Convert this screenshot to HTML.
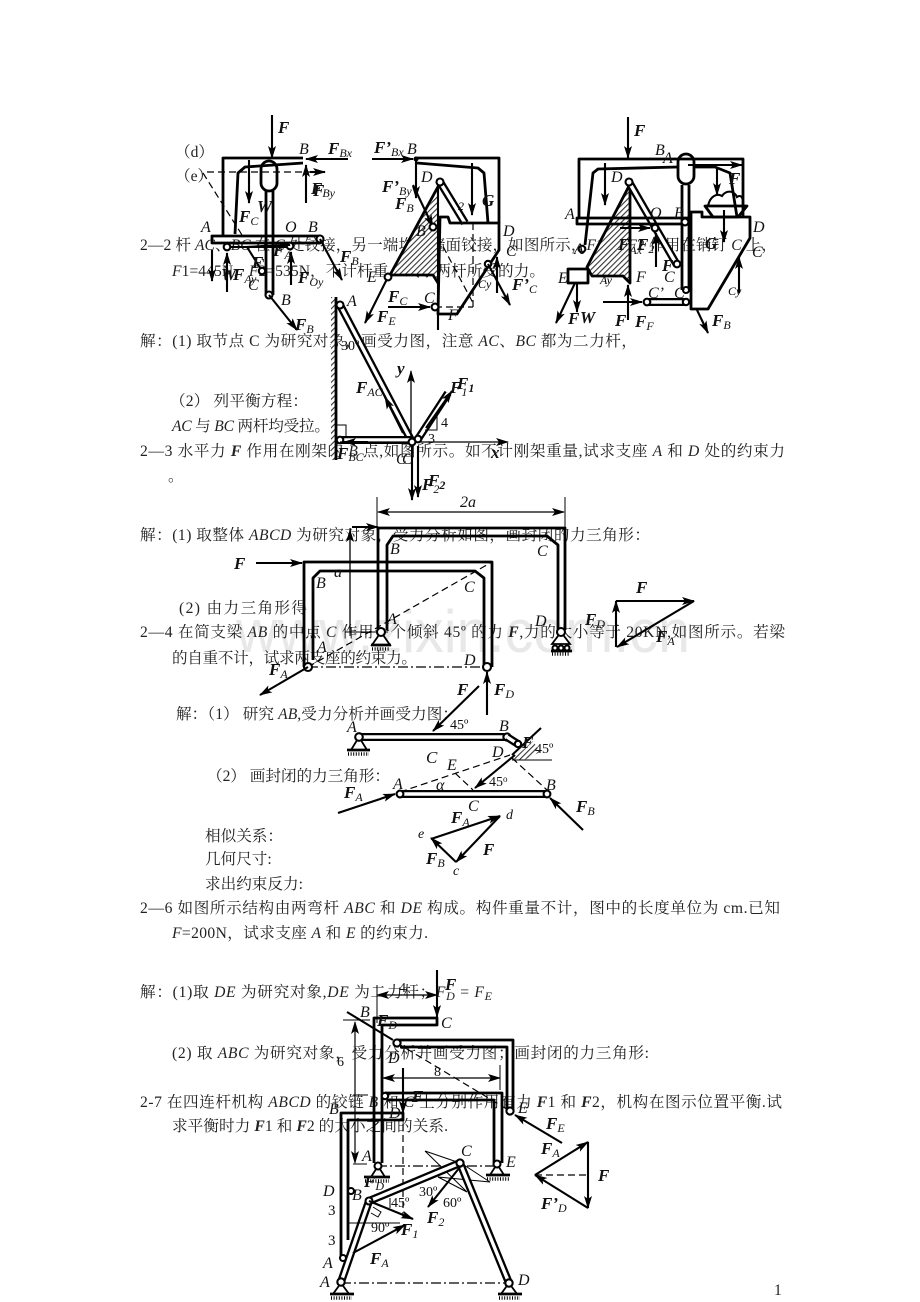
<!DOCTYPE html>
<html><head><meta charset="utf-8">
<style>
html,body{margin:0;padding:0;background:#fff}
svg{display:block}
.t{font:15.6px "Liberation Serif","Noto Serif CJK SC",serif;fill:#222}
.i{font-style:italic}
.l{font:italic 16px "Liberation Serif",serif;fill:#111}
.f{font:italic bold 17px "Liberation Serif",serif;fill:#111}
.s{font:italic 12px "Liberation Serif",serif}
.n{font:14px "Liberation Serif",serif;fill:#111}
.th{fill:none;stroke:#000;stroke-width:2.8;stroke-linejoin:round}
.m{fill:none;stroke:#000;stroke-width:2.1}
.a{fill:none;stroke:#000;stroke-width:2.1;marker-end:url(#h)}
.a2{fill:none;stroke:#000;stroke-width:1.3;marker-end:url(#h)}
.dim{fill:none;stroke:#000;stroke-width:1.2;marker-end:url(#h);marker-start:url(#hs)}
.th1{fill:none;stroke:#000;stroke-width:1}
.d{fill:none;stroke:#000;stroke-width:1.2;stroke-dasharray:7 4}
.dd{fill:none;stroke:#000;stroke-width:1.2;stroke-dasharray:10 3 2 3}
.b1{fill:none;stroke:#000;stroke-width:8}
.b2{fill:none;stroke:#fff;stroke-width:3.4}
.c{fill:#fff;stroke:#000;stroke-width:2.1}
.w{fill:#fff;stroke:#000;stroke-width:1.8}
.hl{fill:none;stroke:#000;stroke-width:3.5;stroke-dasharray:1 1.6}
</style></head>
<body>
<svg xmlns="http://www.w3.org/2000/svg" width="920" height="1302" viewBox="0 0 920 1302">
<defs>
<marker id="h" markerUnits="userSpaceOnUse" markerWidth="13" markerHeight="8" refX="12" refY="4" orient="auto"><path d="M0 0L13 4L0 8L3 4z" fill="#000"/></marker>
<marker id="hs" markerUnits="userSpaceOnUse" markerWidth="13" markerHeight="8" refX="1" refY="4" orient="auto"><path d="M13 0L0 4L13 8L10 4z" fill="#000"/></marker>
<pattern id="hp" width="4" height="4" patternUnits="userSpaceOnUse" patternTransform="rotate(45)"><rect width="4" height="4" fill="#fff"/><rect width="1.1" height="4" fill="#333"/></pattern>
</defs>
<rect width="920" height="1302" fill="#fff"/>

<text x="236" y="652" textLength="454" lengthAdjust="spacingAndGlyphs" font-family="Liberation Sans" font-size="60" fill="#e8e8e8">www.zixin.com.cn</text>

<!-- body text -->
<g transform="translate(0,1)">
<text class="t" x="175" y="156">（d）</text>
<text class="t" x="175" y="180">（e）</text>
<text class="t" x="140" y="249" textLength="637">2—2 杆 <tspan class="i">AC</tspan>、<tspan class="i">BC</tspan> 在 <tspan class="i">C</tspan> 处铰接，另一端均与墙面铰接，如图所示，<tspan class="i">F</tspan>1 和 <tspan class="i">F</tspan>2 作用在销钉 <tspan class="i">C</tspan> 上，</text>
<text class="t" x="172" y="275" textLength="373"><tspan class="i">F</tspan>1=445N，<tspan class="i">F</tspan>2=535N，不计杆重，试求两杆所受的力。</text>
<text class="t" x="140" y="345" textLength="497">解：(1) 取节点 C 为研究对象，画受力图，注意 <tspan class="i">AC</tspan>、<tspan class="i">BC</tspan> 都为二力杆，</text>
<text class="t" x="170" y="405" textLength="138">（2） 列平衡方程：</text>
<text class="t" x="172" y="430" textLength="158"><tspan class="i">AC</tspan> 与 <tspan class="i">BC</tspan> 两杆均受拉。</text>
<text class="t" x="140" y="455" textLength="645">2—3 水平力 <tspan class="i" font-weight="bold">F</tspan> 作用在刚架的 <tspan class="i">B</tspan> 点,如图所示。如不计刚架重量,试求支座 <tspan class="i">A</tspan> 和 <tspan class="i">D</tspan> 处的约束力</text>
<text class="t" x="168" y="480">。</text>
<text class="t" x="140" y="539" textLength="510">解：(1) 取整体 <tspan class="i">ABCD</tspan> 为研究对象，受力分析如图，画封闭的力三角形：</text>
<text class="t" x="179" y="612" textLength="128">(2) 由力三角形得</text>
<text class="t" x="140" y="636" textLength="645">2—4 在简支梁 <tspan class="i">AB</tspan> 的中点 <tspan class="i">C</tspan> 作用一个倾斜 45º 的力 <tspan class="i" font-weight="bold">F</tspan>,力的大小等于 20KN,如图所示。若梁</text>
<text class="t" x="172" y="662" textLength="245">的自重不计，试求两支座的约束力。</text>
<text class="t" x="176" y="718" textLength="282">解：（1） 研究 <tspan class="i">AB</tspan>,受力分析并画受力图：</text>
<text class="t" x="207" y="780" textLength="183">（2） 画封闭的力三角形：</text>
<text class="t" x="205" y="840">相似关系：</text>
<text class="t" x="205" y="863">几何尺寸:</text>
<text class="t" x="205" y="888">求出约束反力:</text>
<text class="t" x="140" y="912" textLength="640">2—6 如图所示结构由两弯杆 <tspan class="i">ABC</tspan> 和 <tspan class="i">DE</tspan> 构成。构件重量不计，图中的长度单位为 cm.已知</text>
<text class="t" x="172" y="937" textLength="256"><tspan class="i">F</tspan>=200N，试求支座 <tspan class="i">A</tspan> 和 <tspan class="i">E</tspan> 的约束力.</text>
<text class="t" x="140" y="996" textLength="352">解：(1)取 <tspan class="i">DE</tspan> 为研究对象,<tspan class="i">DE</tspan> 为二力杆；<tspan class="i">F</tspan><tspan class="s" dy="3">D</tspan><tspan dy="-3"> = </tspan><tspan class="i">F</tspan><tspan class="s" dy="3">E</tspan></text>
<text class="t" x="172" y="1057" textLength="477">(2) 取 <tspan class="i">ABC</tspan> 为研究对象，受力分析并画受力图；画封闭的力三角形:</text>
<text class="t" x="140" y="1106" textLength="642">2-7 在四连杆机构 <tspan class="i">ABCD</tspan> 的铰链 <tspan class="i">B</tspan> 和 <tspan class="i">C</tspan> 上分别作用有力 <tspan class="i" font-weight="bold">F</tspan>1 和 <tspan class="i" font-weight="bold">F</tspan>2，机构在图示位置平衡.试</text>
<text class="t" x="172" y="1130" textLength="276">求平衡时力 <tspan class="i" font-weight="bold">F</tspan>1 和 <tspan class="i" font-weight="bold">F</tspan>2 的大小之间的关系.</text>
<text class="t" x="774" y="1294">1</text>
</g>

<!-- FIGURE 1 -->
<path class="a" d="M272 115V158"/><text class="f" x="278" y="133">F</text>
<path class="th" d="M223 235V158H303"/>
<path class="a" d="M348 159H306"/><text class="f" x="328" y="154">F<tspan class="s" dy="3">Bx</tspan></text>
<text class="l" x="299" y="154">B</text>
<path class="th" d="M235 234L238 173L245 167L303 163"/>
<rect class="th" x="261" y="161" width="16" height="30" rx="8" fill="#fff"/>
<path class="d" d="M207 172H310"/><path class="a" d="M310 172H325"/>
<path class="d" d="M203 173L242 235"/>
<path class="a" d="M249 160V203"/><text class="f" x="239" y="222">F<tspan class="s" dy="3">C</tspan></text>
<text class="f" x="257" y="212">W</text>
<path class="th" d="M266 191V295M273 191V295"/>
<rect class="th" x="212" y="236" width="108" height="7" fill="#fff"/>
<circle class="c" cx="320" cy="239" r="3.5"/>
<text class="l" x="285" y="232">O</text><text class="l" x="308" y="232">B</text><text class="l" x="201" y="232">A</text>
<path class="m" d="M227 247H290"/>
<circle class="c" cx="227" cy="247" r="3.3"/><circle class="c" cx="290" cy="246" r="3.3"/>
<path class="a" d="M306 203V165"/><text class="f" x="313" y="196">F</text><text class="f" x="311" y="194">F<tspan class="s" dy="3">By</tspan></text>
<path class="a" d="M291 285V252"/><text class="f" x="298" y="283">F<tspan class="s" dy="3">Oy</tspan></text>
<path class="a" d="M227 292V253"/><path class="a" d="M212 250V281"/><text class="f" x="221" y="280">W</text><text class="f" x="233" y="280">F<tspan class="s" dy="3">Ay</tspan></text>
<path class="m" d="M247 247L262 271"/><circle class="c" cx="262" cy="271" r="3.2"/>
<text class="l" x="248" y="290">C</text>
<text class="f" x="252" y="268">F</text><text class="n" x="262" y="268">'</text>
<text class="f" x="273" y="256">F<tspan class="s" dy="3">A</tspan></text>
<path class="a" d="M245 247L290 245"/>
<circle class="c" cx="269" cy="295" r="3.5"/><text class="l" x="281" y="305">B</text>
<path class="a" d="M269 295L297 330"/><text class="f" x="295" y="330">F<tspan class="s" dy="3">B</tspan></text>
<path class="a" d="M320 239L342 280"/><text class="f" x="340" y="262">F<tspan class="s" dy="3">B</tspan></text>

<!-- FIGURE 2 -->
<path class="a" d="M372 159H413"/><text class="f" x="374" y="153">F’<tspan class="s" dy="3">Bx</tspan></text>
<text class="l" x="407" y="154">B</text>
<path class="th" d="M417 158H499V223"/>
<path class="th" d="M417 163L478 168L484 173L488 223"/>
<circle cx="416" cy="159" r="2.5"/>
<path class="a" d="M416 160V198"/>
<text class="f" x="382" y="192">F’<tspan class="s" dy="3">By</tspan></text><text class="f" x="395" y="209">F<tspan class="s" dy="3">B</tspan></text>
<path d="M440 187L390 275H433L438 283V187Z" fill="url(#hp)"/>
<path class="th" d="M440 183L390 275H433L438 283"/>
<path class="m" d="M438 187V330"/>
<path class="b1" d="M440 182L465 223"/><path class="b2" d="M440 182L465 223"/>
<circle class="c" cx="440" cy="182" r="3.5"/><text class="l" x="421" y="182">D</text>
<path class="a" d="M413 185L433 227"/><circle class="c" cx="433" cy="227" r="3.4"/>
<text class="l" x="416" y="236">B</text>
<path class="th" d="M440 217H448L450 223H499V250L457 314H438Z" fill="none"/>
<path class="d" d="M473 223V307"/><path class="a" d="M472 163V215"/>
<path class="d" d="M435 307H473"/><path class="a" d="M388 307H430"/>
<circle class="c" cx="435" cy="307" r="3.4"/><text class="l" x="424" y="303">C</text>
<text class="f" x="388" y="302">F<tspan class="s" dy="3">C</tspan></text>
<path class="d" d="M438 237L473 303"/>
<circle class="c" cx="488" cy="264" r="3.2"/>
<path class="a" d="M488 264L510 305"/><text class="f" x="512" y="290">F’<tspan class="s" dy="3">C</tspan></text>
<path class="a" d="M497 293V257"/><text class="s" x="478" y="288">Cy</text>
<text class="l" x="503" y="236">D</text><text class="l" x="506" y="256">C</text>
<text class="f" x="482" y="206">G</text>
<path class="a" d="M388 277L365 323"/><text class="f" x="377" y="322">F<tspan class="s" dy="3">E</tspan></text>
<circle class="c" cx="388" cy="277" r="3.4"/><text class="l" x="367" y="282">E</text>
<text class="l" x="448" y="320">F</text>
<text class="s" x="458" y="210">2</text>

<!-- FIGURE 3 -->
<path class="a" d="M628 117V158"/><text class="f" x="634" y="136">F</text>
<path class="th" d="M579 219V159H743V217"/>
<text class="l" x="655" y="155">B</text><text class="l" x="663" y="163">A</text>
<path class="th" d="M585 245L593 173L598 169L678 167M694 167H715L730 173L737 217"/>
<rect class="th" x="678" y="154" width="16" height="30" rx="8" fill="#fff"/>
<path class="th" d="M682 185V290M689 185V290"/>
<path class="a" d="M688 165H742"/><path class="a" d="M605 163V205"/>
<path d="M629 188L587 267L592 276H623L630 283V188Z" fill="url(#hp)"/>
<path class="th" d="M629 186L587 267L592 276H623L630 283V186"/>
<path class="b1" d="M629 182L677 265"/><path class="b2" d="M629 182L677 265"/>
<circle class="c" cx="629" cy="182" r="3.5"/><text class="l" x="611" y="182">D</text>
<circle class="c" cx="677" cy="264" r="3.3"/>
<rect class="th" x="577" y="218" width="111" height="6" fill="#fff"/>
<circle class="c" cx="685" cy="222" r="3.4"/><circle class="c" cx="655" cy="228" r="3.3"/><circle class="c" cx="582" cy="249" r="3.3"/>
<path class="a" d="M620 228H650"/>
<rect class="th" x="568" y="269" width="20" height="14" fill="#fff"/>
<path class="th" d="M691 212H702V217H750V238L708 309H691Z"/>
<path class="th" d="M705 206H747L738 217H713Z" fill="#fff"/>
<path class="m" d="M708 206C710 196 717 193 722 196C726 190 734 190 737 197C741 194 744 198 743 206"/>
<path class="a" d="M724 210V242"/><text class="f" x="705" y="249">G</text>
<path class="a" d="M717 167V195"/><text class="f" x="729" y="184">F</text>
<path class="b1" d="M647 302H686"/><path class="b2" d="M647 302H686"/>
<circle class="c" cx="686" cy="302" r="3.2"/><circle class="c" cx="647" cy="302" r="3.3"/><circle class="c" cx="686" cy="290" r="3"/>
<text class="l" x="648" y="298">C’</text><text class="l" x="674" y="298">C</text>
<path class="a" d="M603 302H642"/>
<path class="a" d="M697 310L708 333"/><text class="f" x="712" y="326">F<tspan class="s" dy="3">B</tspan></text>
<path class="a" d="M739 293V257"/><text class="s" x="728" y="295">Cy</text>
<path class="a" d="M575 283L556 323"/><path class="a" d="M577 283V312"/>
<text class="f" x="568" y="324">F</text><text class="f" x="580" y="323">W</text>
<path class="a" d="M628 320V285"/><text class="f" x="615" y="326">F</text><text class="f" x="635" y="327">F<tspan class="s" dy="3">F</tspan></text>
<path class="a" d="M656 267V233"/>
<text class="f" x="618" y="250">F<tspan class="s" dy="4">Ax</tspan></text><text class="f" x="637" y="250">F<tspan class="s" dy="3">2</tspan></text>
<text class="f" x="662" y="271">F</text><text class="l" x="636" y="282">F</text><text class="l" x="664" y="282">C</text>
<text class="l" x="558" y="283">E</text><text class="l" x="565" y="219">A</text><text class="l" x="650" y="218">O</text><text class="l" x="674" y="218">B</text><text class="l" x="753" y="232">D</text><text class="l" x="752" y="257">C</text><text class="s" x="600" y="284">Ay</text><text class="l" x="574" y="254">A</text>

<!-- FIGURE 4 -->
<path d="M331 297H336V460H331Z" fill="url(#hp)"/>
<path class="th" d="M336 297V460"/>
<path class="b1" d="M340 305L412 442"/><path class="b2" d="M340 305L412 442"/>
<path class="b1" d="M340 440H412"/><path class="b2" d="M340 440H412"/>
<path class="th1" d="M336 425H346V437"/>
<circle class="c" cx="340" cy="305" r="3.5"/><text class="l" x="347" y="306">A</text>
<circle class="c" cx="340" cy="440" r="3.3"/>
<path class="a" d="M368 442H344"/>
<text class="n" x="341" y="350">30º</text>
<text class="f" x="356" y="393">F<tspan class="s" dy="3">AC</tspan></text>
<path class="a2" d="M411 442V371"/><text class="f" x="397" y="374" font-size="13">y</text>
<path class="a2" d="M340 442H508"/><text class="f" x="491" y="458" font-size="13">x</text>
<path class="a" d="M403 433L385 397"/>
<path class="b1" d="M418 439L448 393"/><path class="b2" d="M418 439L448 393"/>
<path class="a" d="M426 428L452 391"/>
<path class="th1" d="M437 413V430H425"/>
<text class="n" x="441" y="427">4</text><text class="n" x="428" y="443">3</text>
<circle class="c" cx="418" cy="439" r="3.3"/><circle class="c" cx="412" cy="442" r="3.4"/>
<path class="a" d="M412 446V500"/><path class="a" d="M418 446V497"/>
<text class="f" x="422" y="490">F<tspan class="s" dy="3">2</tspan></text><text class="f" x="428" y="486">F<tspan class="s" dy="3" style="font-weight:bold">2</tspan></text>
<text class="f" x="450" y="393">F<tspan class="s" dy="3">1</tspan></text><text class="f" x="457" y="389">F<tspan class="s" dy="3" style="font-weight:bold">1</tspan></text>
<text class="f" x="337" y="459">F<tspan class="s" dy="2">BC</tspan></text>
<text class="l" x="396" y="464">C</text><text class="l" x="402" y="464">C</text>

<!-- FIGURE 5 upper frame -->
<path class="th1" d="M377 497V530M565 497V530"/>
<path class="dim" d="M378 512H564"/><text class="l" x="460" y="507" font-size="13">2<tspan class="i">a</tspan></text>
<path class="th1" d="M350 528V636"/><path class="a" d="M352 527H378"/>
<path class="a2" d="M350 632V530"/>
<path class="th1" d="M345 632H388"/>
<path class="th" d="M378 630V528H565V630"/>
<path class="th" d="M387 630V545L393 536H547L558 545V630"/>
<path class="w" d="M381 632L372 645H390Z"/><path class="th" d="M371 645H391"/><path class="hl" d="M372 649H390"/>
<circle class="c" cx="381" cy="632" r="4"/>
<path class="w" d="M561 632L552 644H570Z"/><circle class="c" cx="555" cy="648" r="2.5"/><circle class="c" cx="561" cy="648" r="2.5"/><circle class="c" cx="567" cy="648" r="2.5"/><path class="th" d="M551 651H572"/><path class="hl" d="M552 654H570"/>
<circle class="c" cx="561" cy="632" r="4"/>
<text class="l" x="390" y="554">B</text><text class="l" x="537" y="556">C</text><text class="l" x="387" y="624">A</text><text class="l" x="535" y="626">D</text>

<!-- lower frame -->
<path class="th" d="M304 667V562H492V667"/>
<path class="th" d="M313 660V578L320 571H475L484 578V665"/>
<path class="dd" d="M308 667H487"/>
<path class="d" d="M308 667L492 562"/>
<circle class="c" cx="308" cy="667" r="4"/><circle class="c" cx="487" cy="667" r="4"/>
<path class="a" d="M256 563H302"/><text class="f" x="234" y="569">F</text>
<path class="a" d="M308 667L260 695"/><text class="f" x="269" y="675">F<tspan class="s" dy="3">A</tspan></text>
<path class="a" d="M487 715V672"/><text class="f" x="494" y="695">F<tspan class="s" dy="3">D</tspan></text>
<text class="f" x="457" y="695">F</text>
<path class="a" d="M479 686L433 731"/>
<text class="l" x="316" y="588">B</text><text class="l" x="464" y="592">C</text><text class="l" x="464" y="665">D</text><text class="l" x="317" y="652">A</text><text class="l" x="334" y="577" font-size="13">a</text>

<!-- triangle -->
<path class="a" d="M616 601H694"/><path class="a" d="M616 647V601"/><path class="a" d="M694 601L617 647"/>
<text class="f" x="636" y="593">F</text>
<text class="f" x="585" y="625">F<tspan class="s" dy="3">D</tspan></text>
<text class="f" x="656" y="642">F<tspan class="s" dy="3">A</tspan></text>

<!-- FIGURE 6 -->
<path class="b1" d="M359 737H507"/><path class="b2" d="M359 737H507"/>
<path class="w" d="M359 737L351 750H367Z"/><path class="th" d="M347 750H370"/><path class="hl" d="M348 754H369"/>
<circle class="c" cx="359" cy="737" r="3.8"/><circle class="c" cx="507" cy="737" r="3.6"/>
<text class="l" x="347" y="732">A</text><text class="l" x="499" y="731">B</text><text class="n" x="450" y="729">45º</text>
<path class="b1" d="M507 737L518 744"/><path class="b2" d="M507 737L518 744"/>
<circle class="c" cx="518" cy="744" r="3.2"/>
<path class="m" d="M512 755L541 728"/><path d="M513 759L533 741L540 752L522 761Z" fill="url(#hp)"/>
<path class="th1" d="M512 760H552"/><text class="n" x="535" y="753">45º</text><text class="f" x="522" y="748">F</text>
<text class="l" x="492" y="757">D</text>
<path class="d" d="M400 792L510 755M455 773L473 790M512 758L547 790"/>
<text class="l" x="447" y="770">E</text>
<path class="a" d="M515 755L475 788"/>
<text class="n" x="489" y="786">45<tspan font-size="9" dy="-4">o</tspan></text>
<text class="l" x="436" y="790">α</text>
<path class="b1" d="M400 794H547"/><path class="b2" d="M400 794H547"/>
<circle class="c" cx="400" cy="794" r="3.4"/><circle class="c" cx="547" cy="794" r="3.4"/>
<path class="a" d="M338 813L395 794"/><text class="f" x="344" y="798">F<tspan class="s" dy="3">A</tspan></text>
<text class="l" x="393" y="789">A</text><text class="l" x="546" y="790">B</text>
<path class="a" d="M583 830L550 798"/><text class="f" x="576" y="812">F<tspan class="s" dy="3">B</tspan></text>
<text class="l" x="468" y="811">C</text><text class="l" x="426" y="763" style="font-size:17px">C</text>
<path class="a" d="M431 839L500 816"/><path class="a" d="M500 816L456 862"/><path class="a" d="M456 862L431 838"/>
<text class="f" x="451" y="823">F<tspan class="s" dy="3">A</tspan></text>
<text class="l" x="506" y="819" style="font-size:14px">d</text><text class="l" x="418" y="838" style="font-size:14px">e</text><text class="l" x="453" y="875" style="font-size:14px">c</text>
<text class="f" x="483" y="855">F</text><text class="f" x="426" y="864">F<tspan class="s" dy="3">B</tspan></text>

<!-- FIGURE 7 -->
<path class="a" d="M437 970V1017"/><text class="f" x="445" y="990">F</text>
<path class="dim" d="M377 995H437"/><text class="n" x="399" y="992">4</text>
<path class="th1" d="M377 985V1023"/>
<path class="th" d="M374 1163V1018H437V1025H382V1163"/>
<text class="l" x="360" y="1017">B</text><text class="l" x="441" y="1028">C</text>
<text class="f" x="377" y="1026">F<tspan class="s" dy="3">D</tspan></text>
<path class="m" d="M347 1012L393 1040"/>
<path class="dim" d="M355 1022V1163"/><path class="th1" d="M343 1020H370M353 1095H368M353 1164H367"/>
<text class="n" x="337" y="1066">6</text>
<path class="th" d="M397 1040H513V1110M400 1047H507V1108"/>
<path class="d" d="M397 1043L510 1111"/>
<circle class="c" cx="397" cy="1043" r="3.6"/><circle class="c" cx="510" cy="1111" r="3.6"/>
<text class="l" x="388" y="1063">D</text><text class="l" x="518" y="1113">E</text>
<path class="dim" d="M383 1078H500"/><path class="th1" d="M500 1065V1090"/><text class="n" x="434" y="1076">8</text>
<path class="th" d="M385 1093H502V1163M387 1100H494V1163"/>
<circle class="c" cx="385" cy="1096" r="3.2"/>
<path class="a" d="M403 1068V1113"/><text class="f" x="412" y="1102">F</text>
<path class="d" d="M403 1113V1217"/>
<path class="th" d="M341 1256V1113H403V1120H348V1240"/>
<text class="l" x="389" y="1118">D</text><text class="l" x="329" y="1114">B</text>
<path class="dd" d="M377 1166H497"/>
<path class="a" d="M562 1143L515 1115"/><text class="f" x="546" y="1129">F<tspan class="s" dy="3">E</tspan></text>
<path class="w" d="M378 1166L371 1177H385Z"/><path class="th" d="M364 1177H390"/><path class="hl" d="M365 1181H389"/>
<circle class="c" cx="378" cy="1166" r="3.5"/>
<path class="w" d="M497 1164L490 1175H504Z"/><path class="th" d="M486 1175H510"/><path class="hl" d="M487 1179H509"/>
<circle class="c" cx="497" cy="1164" r="3.5"/>
<text class="l" x="506" y="1167">E</text><text class="l" x="362" y="1161">A</text>
<path class="th1" d="M353 1164H367M425 1151L467 1192M425 1151L460 1163M438 1177L467 1192M464 1165L490 1182L438 1177"/>
<!-- force triangle 7 -->
<path class="a" d="M535 1175L588 1142"/><path class="a" d="M588 1142V1208"/><path class="a" d="M588 1208L535 1175"/>
<path class="d" d="M535 1175H588"/>
<text class="f" x="598" y="1181">F</text><text class="f" x="541" y="1154">F<tspan class="s" dy="3">A</tspan></text><text class="f" x="541" y="1209">F’<tspan class="s" dy="3">D</tspan></text>
<!-- four-bar -->
<path class="b1" d="M341 1282L369 1201"/><path class="b2" d="M341 1282L369 1201"/>
<path class="b1" d="M369 1201L460 1163"/><path class="b2" d="M369 1201L460 1163"/>
<path class="b1" d="M460 1163L509 1283"/><path class="b2" d="M460 1163L509 1283"/>
<path class="dd" d="M341 1283H509"/>
<path class="w" d="M341 1283L333 1294H349Z"/><path class="th" d="M330 1294H354"/><path class="hl" d="M331 1298H352"/>
<path class="w" d="M509 1283L501 1294H517Z"/><path class="th" d="M498 1294H522"/><path class="hl" d="M499 1298H520"/>
<circle class="c" cx="341" cy="1282" r="3.7"/><circle class="c" cx="509" cy="1283" r="3.7"/>
<circle class="c" cx="369" cy="1201" r="3.5"/><circle class="c" cx="460" cy="1163" r="3.6"/>
<circle class="c" cx="351" cy="1191" r="3"/><circle class="c" cx="343" cy="1258" r="3"/>
<text class="l" x="461" y="1156">C</text><text class="l" x="518" y="1285">D</text><text class="l" x="320" y="1287">A</text><text class="l" x="323" y="1268">A</text><text class="l" x="323" y="1196">D</text><text class="l" x="352" y="1200">B</text>
<text class="n" x="328" y="1215" style="font-size:15px">3</text><text class="n" x="328" y="1245" style="font-size:15px">3</text>
<path class="th1" d="M348 1223H400M390 1198V1208"/>
<path class="a" d="M369 1201L413 1219"/>
<path class="th1" d="M373 1207L381 1212L378 1217L371 1213"/>
<text class="n" x="391" y="1207">45º</text><text class="n" x="371" y="1232">90º</text>
<text class="f" x="401" y="1235">F<tspan class="s" dy="3">1</tspan></text>
<path class="a" d="M353 1253L405 1225"/><text class="f" x="370" y="1264">F<tspan class="s" dy="3">A</tspan></text>
<path class="a" d="M460 1167L428 1207"/><text class="f" x="427" y="1223">F<tspan class="s" dy="3">2</tspan></text>
<text class="n" x="419" y="1196">30º</text><text class="n" x="443" y="1207">60º</text>
<text class="f" x="364" y="1187">F<tspan class="s" dy="3">D</tspan></text>
</svg>
</body></html>
